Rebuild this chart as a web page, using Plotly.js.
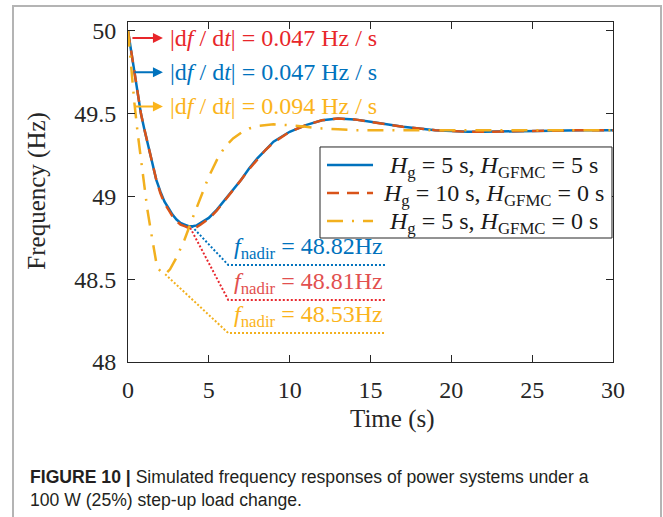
<!DOCTYPE html>
<html>
<head>
<meta charset="utf-8">
<script src="https://cdn.plot.ly/plotly-3.0.1.min.js"></script>
<style>
  html, body { margin: 0; padding: 0; background: #ffffff; }
  #chart { width: 663px; height: 517px; }
</style>
</head>
<body>
<div id="chart"></div>
<script>
// ---- data ----
const timeS = [0,0.2,0.4,0.6,0.8,1.0,1.25,1.5,1.75,2.0,2.25,2.5,2.75,3.0,3.25,3.5,3.75,4.0,4.25,4.5,5.0,5.5,6.0,6.5,7.0,7.5,8.0,8.5,9.0,9.5,10,11,12,13,14,15,16,17,18,19,20,21,22,23,24,26,28,30];
const freqH5G5 = [50,49.87,49.73,49.61,49.50,49.41,49.30,49.19,49.10,49.03,48.97,48.93,48.89,48.86,48.84,48.83,48.82,48.82,48.825,48.84,48.87,48.92,48.98,49.04,49.10,49.17,49.23,49.28,49.33,49.36,49.39,49.43,49.46,49.47,49.465,49.45,49.435,49.42,49.41,49.40,49.395,49.39,49.39,49.392,49.395,49.40,49.40,49.40];
const freqH10G0 = [50,49.87,49.73,49.61,49.50,49.41,49.30,49.19,49.10,49.02,48.96,48.92,48.88,48.85,48.83,48.82,48.81,48.81,48.815,48.83,48.865,48.915,48.975,49.035,49.10,49.165,49.225,49.28,49.325,49.36,49.39,49.43,49.46,49.47,49.465,49.45,49.435,49.42,49.41,49.40,49.395,49.39,49.39,49.392,49.395,49.40,49.40,49.40];
const timeY = [0,0.2,0.4,0.6,0.8,1.0,1.2,1.4,1.6,1.75,1.9,2.1,2.3,2.6,3.0,3.5,4.0,4.5,5.0,5.5,6.0,6.5,7.0,7.5,8,9,10,11,12,13,14,16,18,20,25,30];
const freqH5G0 = [50,49.76,49.56,49.38,49.22,49.06,48.92,48.80,48.68,48.60,48.56,48.54,48.53,48.56,48.63,48.74,48.87,49.00,49.12,49.22,49.30,49.35,49.385,49.41,49.425,49.435,49.43,49.42,49.41,49.405,49.40,49.40,49.40,49.40,49.40,49.40];

const seriesNames = [
  '<i>H</i><sub>g</sub> = 5 s, <i>H</i><sub>GFMC</sub> = 5 s',
  '<i>H</i><sub>g</sub> = 10 s, <i>H</i><sub>GFMC</sub> = 0 s',
  '<i>H</i><sub>g</sub> = 5 s, <i>H</i><sub>GFMC</sub> = 0 s'
];

// nadir leader lines (time, frequency)
const nadirT1 = [3.94, 6.2, 15.9], nadirF1 = [48.82, 48.586, 48.586];
const nadirT2 = [3.85, 6.2, 15.9], nadirF2 = [48.81, 48.375, 48.375];
const nadirT3 = [2.3, 6.2, 15.9],  nadirF3 = [48.53, 48.175, 48.175];

const nadirValues = ['48.82', '48.81', '48.53'];
const nadirLabelY = [48.69, 48.478, 48.279];
const rocofValues = ['0.047', '0.047', '0.094'];
const rocofY = [49.956, 49.75, 49.543];

const xTicks = [0, 5, 10, 15, 20, 25, 30];
const yTicks = [48, 48.5, 49, 49.5, 50];
const yTickText = ['48', '48.5', '49', '49.5', '50'];

// ---- styles ----
const cBlue = '#0072BD', cRed = '#D95319', cYel = '#F2B01E';
const cRedTxt = '#E8262A', cRedNadir = '#E2504F', cYelTxt = '#FBB41C';
const serif = 'Liberation Serif, Times New Roman, serif';
const axisCol = '#262626';
const lineStyles = [
  {color: cBlue, width: 2.5},
  {color: cRed, width: 2.5, dash: '12px,8px'},
  {color: cYel, width: 2.5, dash: '16px,9px,2px,9px'}
];

const traces = [
  {x: timeS, y: freqH5G5, name: seriesNames[0], mode: 'lines', line: lineStyles[0]},
  {x: timeS, y: freqH10G0, name: seriesNames[1], mode: 'lines', line: lineStyles[1]},
  {x: timeY, y: freqH5G0, name: seriesNames[2], mode: 'lines', line: lineStyles[2]},
  {x: nadirT1, y: nadirF1, mode: 'lines', showlegend: false, line: {color: cBlue, width: 2, dash: '2px,2px'}},
  {x: nadirT2, y: nadirF2, mode: 'lines', showlegend: false, line: {color: '#E8282E', width: 2, dash: '2px,2px'}},
  {x: nadirT3, y: nadirF3, mode: 'lines', showlegend: false, line: {color: cYel, width: 2, dash: '2px,2px'}}
];

const rocofCols = [cRedTxt, cBlue, cYelTxt];
const nadirCols = [cBlue, cRedNadir, cYelTxt];
const annotations = [];
for (let i = 0; i < 3; i++) {
  annotations.push({x: 2.16, y: rocofY[i], xref: 'x', yref: 'y', text: '', showarrow: true,
    ax: (i === 0 ? -32 : -30), ay: 0, arrowhead: 2, arrowsize: 1, arrowwidth: 2, arrowcolor: rocofCols[i]});
  annotations.push({x: 2.47, y: rocofY[i], xref: 'x', yref: 'y', xanchor: 'left', yanchor: 'middle',
    showarrow: false, text: '|d<i>f</i> / d<i>t</i>| = ' + rocofValues[i] + ' Hz / s',
    font: {family: serif, size: 24, color: rocofCols[i]}});
  annotations.push({x: 6.43, y: nadirLabelY[i], xref: 'x', yref: 'y', xanchor: 'left', yanchor: 'middle',
    showarrow: false, text: '<i>f</i><sub>nadir</sub> = ' + nadirValues[i] + 'Hz',
    font: {family: serif, size: 24, color: nadirCols[i]}});
}
// axis titles
annotations.push({x: 0.546, y: -0.168, xref: 'paper', yref: 'paper', xanchor: 'center', yanchor: 'middle',
  showarrow: false, text: 'Time (s)', font: {family: serif, size: 25, color: axisCol}});
annotations.push({x: -0.1876, y: 0.504, xref: 'paper', yref: 'paper', xanchor: 'center', yanchor: 'middle',
  showarrow: false, textangle: -90, text: 'Frequency (Hz)', font: {family: serif, size: 25, color: axisCol}});

// legend (drawn as a boxed key)
const legRowY = [0.5794, 0.4971, 0.4147];
const shapes = [
  {type: 'rect', xref: 'paper', yref: 'paper', x0: -0.2371, x1: 1.099, y0: -0.47, y1: 1.047,
    line: {color: '#b4b4b4', width: 2}, fillcolor: 'rgba(0,0,0,0)', layer: 'below'},
  {type: 'rect', xref: 'paper', yref: 'paper', x0: 0.3959, x1: 0.9979, y0: 0.3647, y1: 0.6324,
    line: {color: axisCol, width: 1}, fillcolor: '#ffffff', layer: 'above'}
];
for (let i = 0; i < 3; i++) {
  shapes.push({type: 'line', xref: 'paper', yref: 'paper', x0: 0.4103, x1: 0.5052, y0: legRowY[i], y1: legRowY[i],
    line: lineStyles[i], layer: 'above'});
  annotations.push({x: 0.7546, y: legRowY[i] - 0.006, xref: 'paper', yref: 'paper', xanchor: 'center', yanchor: 'middle',
    showarrow: false, text: seriesNames[i], font: {family: serif, size: 24, color: '#1a1a1a'}});
}

annotations.push({x: -0.206, y: -0.338, xref: 'paper', yref: 'paper', xanchor: 'left', yanchor: 'middle',
  showarrow: false, text: '<b>FIGURE 10 |</b> Simulated frequency responses of power systems under a',
  font: {family: 'Liberation Sans, Arial, sans-serif', size: 17.6, color: '#231F20'}});
annotations.push({x: -0.206, y: -0.406, xref: 'paper', yref: 'paper', xanchor: 'left', yanchor: 'middle',
  showarrow: false, text: '100 W (25%) step-up load change.',
  font: {family: 'Liberation Sans, Arial, sans-serif', size: 17.6, color: '#231F20'}});

const layout = {
  width: 663, height: 517,
  margin: {l: 128, r: 50, t: 22, b: 155},
  paper_bgcolor: '#ffffff', plot_bgcolor: '#ffffff',
  font: {family: serif, size: 24, color: axisCol},
  showlegend: false,
  xaxis: {
    range: [0, 30], tickvals: xTicks, ticks: 'inside', ticklen: 7, tickcolor: axisCol,
    showline: true, linecolor: axisCol, linewidth: 1, mirror: 'ticks', showgrid: false, zeroline: false,
    ticklabelstandoff: 6, tickfont: {family: serif, size: 24, color: axisCol}
  },
  yaxis: {
    range: [48, 50.053], tickvals: yTicks, ticktext: yTickText, ticks: 'inside', ticklen: 7, tickcolor: axisCol,
    showline: true, linecolor: axisCol, linewidth: 1, mirror: 'ticks', showgrid: false, zeroline: false,
    ticklabelstandoff: 6, tickfont: {family: serif, size: 24, color: axisCol}
  },
  shapes: shapes,
  annotations: annotations
};

Plotly.newPlot('chart', traces, layout, {displayModeBar: false, staticPlot: true});
</script>
</body>
</html>
